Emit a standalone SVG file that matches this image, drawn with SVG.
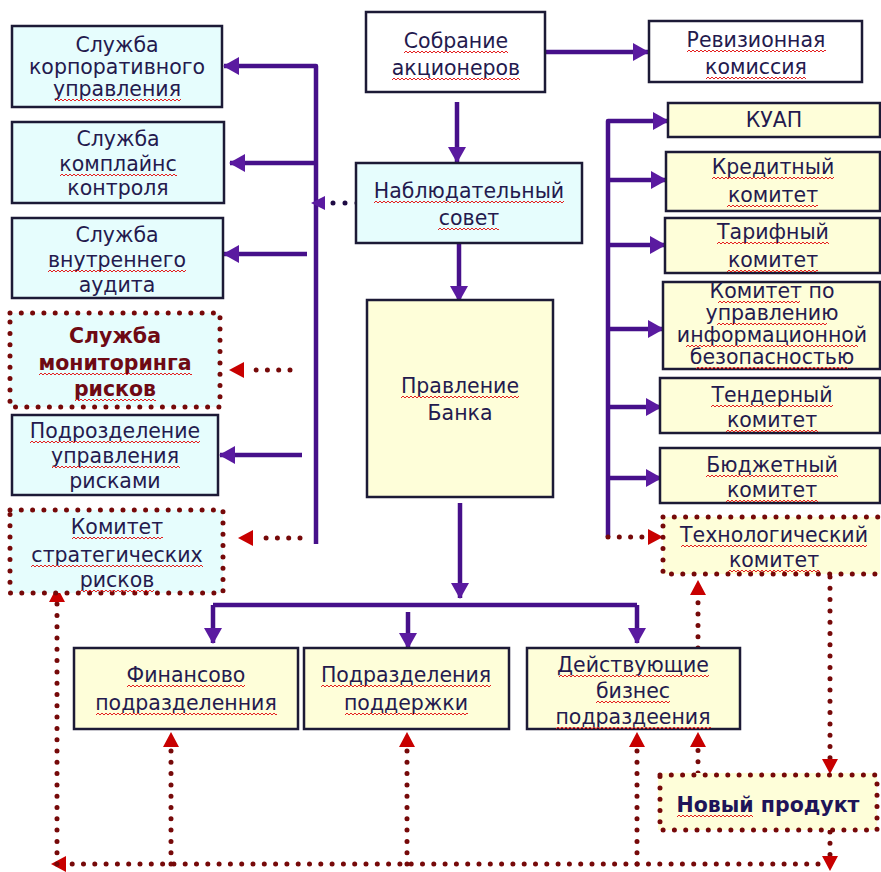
<svg xmlns="http://www.w3.org/2000/svg" width="881" height="872" viewBox="0 0 881 872">
  <defs>
    <style>
      .box{stroke:#1c1a36;stroke-width:2.5}
      .cy{fill:#e6fdfd}
      .yl{fill:#fefed9}
      .wh{fill:#ffffff}
      .dbox{stroke:#760909;stroke-width:5;stroke-dasharray:0 11.3;stroke-linecap:round}
      .pl{fill:none;stroke:#46108a;stroke-width:4.5;stroke-linejoin:round}
      .rd{fill:none;stroke:#760909;stroke-width:5;stroke-dasharray:0 11.3;stroke-linecap:round}
      .nd{fill:none;stroke:#1e0a44;stroke-width:5;stroke-dasharray:0 12;stroke-linecap:round}
      text{font-family:"DejaVu Sans","Liberation Sans",sans-serif;fill:#241a4e;text-anchor:middle;font-size:20.5px}
      .bred{fill:#6e0a14;font-weight:bold}
      .bnav{fill:#1e1458;font-weight:bold}
      .wave rect{fill:url(#wv);height:4px}
    </style>
    <!-- spell-check style wavy underline -->
    <pattern id="wv" width="4" height="4" patternUnits="userSpaceOnUse">
      <path d="M0,3 L2,1 L4,3" fill="none" stroke="#e42020" stroke-width="1"/>
    </pattern>
    <marker id="ap" markerUnits="userSpaceOnUse" markerWidth="16" markerHeight="18" refX="15" refY="9" orient="auto">
      <path d="M0,0 L16,9 L0,18 z" fill="#5a1aa0"/>
    </marker>
  </defs>

  <!-- connectors -->
  <g id="connectors">
    <!-- left bus from the supervisory board -->
    <path class="pl" d="M316,544 V66 H224" marker-end="url(#ap)"/>
    <path class="pl" d="M316,163 H230" marker-end="url(#ap)"/>
    <path class="pl" d="M307,254 H224" marker-end="url(#ap)"/>
    <path class="pl" d="M302,455 H220" marker-end="url(#ap)"/>
    <path class="nd" d="M357,203 H330"/>
    <path d="M325,196 L311,203 L325,210 z" fill="#5a1aa0"/>
    <path class="rd" d="M290,370 H245"/>
    <path d="M244,362 L229,370 L244,378 z" fill="#c80000"/>
    <path class="rd" d="M300,538 H255"/>
    <path d="M253,530 L238,538 L253,546 z" fill="#c80000"/>

    <!-- centre column -->
    <path class="pl" d="M545,52 H648" marker-end="url(#ap)"/>
    <path class="pl" d="M457,102 V162" marker-end="url(#ap)"/>
    <path class="pl" d="M459,243 V301" marker-end="url(#ap)"/>
    <path class="pl" d="M460,503 V598" marker-end="url(#ap)"/>
    <path class="pl" d="M213,605 H637"/>
    <path class="pl" d="M213,605 V643" marker-end="url(#ap)"/>
    <path class="pl" d="M637,605 V643" marker-end="url(#ap)"/>
    <path class="pl" d="M408,612 V648" marker-end="url(#ap)"/>

    <!-- right bus of committees -->
    <path class="pl" d="M608,537 V121 H668" marker-end="url(#ap)"/>
    <path class="pl" d="M608,180 H666" marker-end="url(#ap)"/>
    <path class="pl" d="M608,245 H665" marker-end="url(#ap)"/>
    <path class="pl" d="M608,329 H663" marker-end="url(#ap)"/>
    <path class="pl" d="M608,407 H661" marker-end="url(#ap)"/>
    <path class="pl" d="M608,478 H661" marker-end="url(#ap)"/>
    <path class="rd" d="M608,537 H648"/>
    <path d="M648,529 L663,537 L648,545 z" fill="#c80000"/>

    <!-- new product loop -->
    <path class="rd" d="M830,577 V760"/>
    <path d="M822,759 L830,774 L838,759 z" fill="#c80000"/>
    <path class="rd" d="M698,648 V595"/>
    <path d="M690,595 L698,580 L706,595 z" fill="#c80000"/>
    <path class="rd" d="M698,773 V747"/>
    <path d="M690,747 L698,732 L706,747 z" fill="#c80000"/>
    <path class="rd" d="M830,832 V856"/>
    <path d="M822,856 L830,871 L838,856 z" fill="#c80000"/>
    <path class="rd" d="M818,864 H66"/>
    <path d="M66,856 L51,864 L66,872 z" fill="#c80000"/>
    <path class="rd" d="M57,864 V602"/>
    <path d="M49,602 L57,587 L65,602 z" fill="#c80000"/>
    <path class="rd" d="M171,864 V747"/>
    <path d="M163,747 L171,732 L179,747 z" fill="#c80000"/>
    <path class="rd" d="M407,864 V747"/>
    <path d="M399,747 L407,732 L415,747 z" fill="#c80000"/>
    <path class="rd" d="M637,864 V747"/>
    <path d="M629,747 L637,732 L645,747 z" fill="#c80000"/>
  </g>

  <!-- left column -->
  <g id="corp-gov">
    <rect class="box cy" x="12" y="26" width="210" height="81"/>
    <text font-size="17.5"><tspan x="117" y="52">Служба</tspan><tspan x="117" y="74">корпоративного</tspan><tspan x="117" y="96">управления</tspan></text>
  </g>
  <g id="compliance">
    <rect class="box cy" x="12" y="122" width="212" height="81"/>
    <text font-size="21"><tspan x="118" y="146">Служба</tspan><tspan x="118" y="171">комплайнс</tspan><tspan x="118" y="195">контроля</tspan></text>
  </g>
  <g id="audit">
    <rect class="box cy" x="12" y="218" width="211" height="80"/>
    <text font-size="21"><tspan x="117" y="242">Служба</tspan><tspan x="117" y="267">внутреннего</tspan><tspan x="117" y="292">аудита</tspan></text>
  </g>
  <g id="risk-monitoring">
    <rect class="cy" x="10" y="313" width="210" height="94"/>
    <rect class="dbox" x="10" y="313" width="210" height="94" fill="none"/>
    <text class="bred" font-size="19.5"><tspan x="115" y="343">Служба</tspan><tspan x="115" y="370">мониторинга</tspan><tspan x="115" y="396">рисков</tspan></text>
  </g>
  <g id="risk-management">
    <rect class="box cy" x="12" y="415" width="206" height="80"/>
    <text font-size="20"><tspan x="115" y="438">Подрозделение</tspan><tspan x="115" y="463">управления</tspan><tspan x="115" y="488">рисками</tspan></text>
  </g>
  <g id="strategic-risks">
    <rect class="cy" x="10" y="510" width="213" height="83"/>
    <rect class="dbox" x="10" y="510" width="213" height="83" fill="none"/>
    <text font-size="21"><tspan x="117" y="534">Комитет</tspan><tspan x="117" y="562">стратегических</tspan><tspan x="117" y="587">рисков</tspan></text>
  </g>

  <!-- centre column -->
  <g id="shareholders">
    <rect class="box wh" x="366" y="12" width="179" height="80"/>
    <text font-size="21"><tspan x="456" y="48">Собрание</tspan><tspan x="456" y="75">акционеров</tspan></text>
  </g>
  <g id="audit-commission">
    <rect class="box wh" x="649" y="21" width="213" height="61"/>
    <text font-size="20"><tspan x="756" y="47">Ревизионная</tspan><tspan x="756" y="74">комиссия</tspan></text>
  </g>
  <g id="supervisory-board">
    <rect class="box cy" x="356" y="163" width="226" height="80"/>
    <text font-size="20"><tspan x="469" y="198">Наблюдательный</tspan><tspan x="469" y="225">совет</tspan></text>
  </g>
  <g id="management-board">
    <rect class="box yl" x="367" y="300" width="186" height="197"/>
    <text font-size="21"><tspan x="460" y="393">Правление</tspan><tspan x="460" y="420">Банка</tspan></text>
  </g>

  <!-- right column committees -->
  <g id="alco">
    <rect class="box yl" x="668" y="103" width="212" height="34"/>
    <text font-size="20" x="774" y="127">КУАП</text>
  </g>
  <g id="credit">
    <rect class="box yl" x="666" y="152" width="214" height="59"/>
    <text font-size="20"><tspan x="773" y="174">Кредитный</tspan><tspan x="773" y="202">комитет</tspan></text>
  </g>
  <g id="tariff">
    <rect class="box yl" x="665" y="218" width="215" height="55"/>
    <text font-size="20"><tspan x="773" y="239">Тарифный</tspan><tspan x="773" y="267">комитет</tspan></text>
  </g>
  <g id="infosec">
    <rect class="box yl" x="663" y="282" width="217" height="87"/>
    <text font-size="16"><tspan x="772" y="298">Комитет по</tspan><tspan x="772" y="320">управлению</tspan><tspan x="772" y="342">информационной</tspan><tspan x="772" y="364">безопасностью</tspan></text>
  </g>
  <g id="tender">
    <rect class="box yl" x="660" y="378" width="220" height="55"/>
    <text font-size="20.5"><tspan x="772" y="402">Тендерный</tspan><tspan x="772" y="427">комитет</tspan></text>
  </g>
  <g id="budget">
    <rect class="box yl" x="660" y="448" width="220" height="55"/>
    <text font-size="20.5"><tspan x="772" y="472">Бюджетный</tspan><tspan x="772" y="497">комитет</tspan></text>
  </g>
  <g id="technology">
    <rect class="yl" x="663" y="517" width="217" height="57"/>
    <rect class="dbox" x="663" y="517" width="230" height="57" fill="none"/>
    <text font-size="20.5"><tspan x="774" y="542">Технологический</tspan><tspan x="774" y="567">комитет</tspan></text>
  </g>

  <!-- bottom divisions -->
  <g id="finance">
    <rect class="box yl" x="74" y="648" width="224" height="81"/>
    <text font-size="21"><tspan x="186" y="682">Финансово</tspan><tspan x="186" y="710">подразделенния</tspan></text>
  </g>
  <g id="support">
    <rect class="box yl" x="304" y="648" width="205" height="81"/>
    <text font-size="21"><tspan x="406" y="682">Подразделения</tspan><tspan x="406" y="710">поддержки</tspan></text>
  </g>
  <g id="business">
    <rect class="box yl" x="527" y="648" width="213" height="81"/>
    <text font-size="21"><tspan x="633" y="672">Действующие</tspan><tspan x="633" y="698">бизнес</tspan><tspan x="633" y="724">подраздеения</tspan></text>
  </g>
  <g id="new-product">
    <rect class="yl" x="658" y="773" width="219" height="57"/>
    <rect class="dbox" x="660" y="775" width="217" height="55" fill="none"/>
    <text class="bnav" font-size="18.5" x="768" y="812">Новый продукт</text>
  </g>

  <!-- wavy spell-check underlines under the words -->
  <g class="wave">
    <rect transform="translate(55,98)" width="126"/>
    <rect transform="translate(60,173)" width="117"/>
    <rect transform="translate(48,269)" width="138"/>
    <rect transform="translate(39,372)" width="153"/>
    <rect transform="translate(75,398)" width="81"/>
    <rect transform="translate(30,440)" width="170"/>
    <rect transform="translate(52,465)" width="128"/>
    <rect transform="translate(72,536)" width="91"/>
    <rect transform="translate(31,564)" width="172"/>
    <rect transform="translate(80,589)" width="74"/>
    <rect transform="translate(404,50)" width="104"/>
    <rect transform="translate(392,77)" width="128"/>
    <rect transform="translate(687,49)" width="139"/>
    <rect transform="translate(706,76)" width="100"/>
    <rect transform="translate(374,200)" width="190"/>
    <rect transform="translate(438,227)" width="61"/>
    <rect transform="translate(401,395)" width="118"/>
    <rect transform="translate(712,176)" width="122"/>
    <rect transform="translate(727,204)" width="91"/>
    <rect transform="translate(717,241)" width="112"/>
    <rect transform="translate(727,269)" width="91"/>
    <rect transform="translate(718,300)" width="82"/>
    <rect transform="translate(717,322)" width="110"/>
    <rect transform="translate(686,344)" width="172"/>
    <rect transform="translate(696,366)" width="152"/>
    <rect transform="translate(711,404)" width="122"/>
    <rect transform="translate(726,429)" width="92"/>
    <rect transform="translate(706,474)" width="132"/>
    <rect transform="translate(726,499)" width="92"/>
    <rect transform="translate(681,544)" width="186"/>
    <rect transform="translate(728,569)" width="92"/>
    <rect transform="translate(127,684)" width="118"/>
    <rect transform="translate(96,712)" width="181"/>
    <rect transform="translate(321,684)" width="170"/>
    <rect transform="translate(345,712)" width="123"/>
    <rect transform="translate(559,674)" width="150"/>
    <rect transform="translate(596,700)" width="74"/>
    <rect transform="translate(556,726)" width="155"/>
    <rect transform="translate(677,814)" width="76"/>
  </g>
</svg>
